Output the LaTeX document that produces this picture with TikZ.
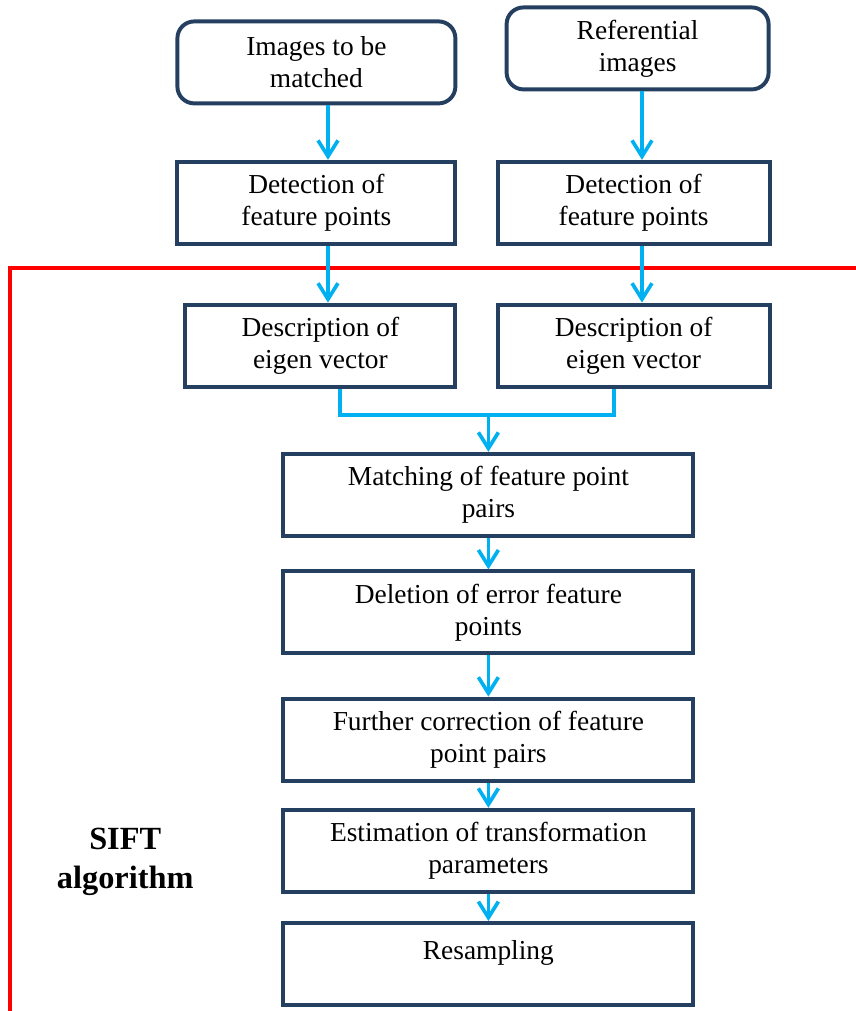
\documentclass[tikz,border=0pt]{standalone}
\usepackage{fontspec}
\setmainfont{Liberation Serif}
\usepackage{tikz}
\usetikzlibrary{arrows.meta, positioning, calc}
\definecolor{BoxNavy}{HTML}{243F60}
\definecolor{FlowCyan}{HTML}{00B0F0}
\definecolor{FrameRed}{HTML}{FF0000}
\tikzset{
    stepbox/.style={draw=BoxNavy, line width=2.8pt, fill=white, align=center,
                    minimum height=2.05cm, font=\fontsize{19.5}{22.7}\selectfont},
    startbox/.style={stepbox, rounded corners=12pt},
    flow/.style={draw=FlowCyan, line width=2.6pt,
                 -{Straight Barb[length=0.4cm,width=0.5cm]}},
    bus/.style={draw=FlowCyan, line width=2.6pt}
}

\begin{document}
\begin{tikzpicture}
    \useasboundingbox (0,0) rectangle (21.4,-25.275);

    % sources
    \node[startbox, minimum width=6.95cm] (img) at (7.91,-1.56) {Images to be\\matched};
    \node[startbox, minimum width=6.55cm] (ref) at (15.94,-1.21) {Referential\\images};

    % detection and description
    \node[stepbox, minimum width=6.95cm] (detL) at (7.91,-5.07) {Detection of\\feature points};
    \node[stepbox, minimum width=6.8cm]  (detR) at (15.84,-5.07) {Detection of\\feature points};
    \node[stepbox, minimum width=6.75cm] (desL) at (8.01,-8.64) {Description of\\eigen vector};
    \node[stepbox, minimum width=6.8cm]  (desR) at (15.84,-8.64) {Description of\\eigen vector};

    % main chain
    \node[stepbox, minimum width=10.25cm] (match) at (12.21,-12.37) {Matching of feature point\\pairs};
    \node[stepbox, minimum width=10.25cm] (del)   at (12.21,-15.31) {Deletion of error feature\\points};
    \node[stepbox, minimum width=10.25cm] (fur)   at (12.21,-18.49) {Further correction of feature\\point pairs};
    \node[stepbox, minimum width=10.25cm] (est)   at (12.21,-21.27) {Estimation of transformation\\parameters};
    \node[stepbox, minimum width=10.25cm, text depth=0.7cm] (res) at (12.21,-24.10) {Resampling};

    \node[align=center, font=\bfseries\fontsize{23}{27.6}\selectfont] (sift) at (3.13,-21.54) {SIFT\\algorithm};

    % columns of the arrows
    \coordinate (colL) at (8.2,0);
    \coordinate (colR) at (16.05,0);
    \coordinate (busL) at (8.5,0);
    \coordinate (busR) at (15.35,0);
    \coordinate (busY) at (0,-10.375);

    % SIFT frame
    \draw[FrameRed, line width=2.8pt] (21.4,-6.7) -- (0.25,-6.7) -- (0.25,-25.275);

    \draw[flow] (img.south -| colL) -- (detL.north -| colL);
    \draw[flow] (ref.south -| colR) -- (detR.north -| colR);
    \draw[flow] (detL.south -| colL) -- (desL.north -| colL);
    \draw[flow] (detR.south -| colR) -- (desR.north -| colR);

    \draw[bus] (desL.south -| busL) -- (busL |- busY) -- (busR |- busY) -- (desR.south -| busR);
    \draw[flow] (match.north |- busY) -- (match.north);

    \draw[flow] (match) -- (del);
    \draw[flow] (del) -- (fur);
    \draw[flow] (fur) -- (est);
    \draw[flow] (est) -- (res);
\end{tikzpicture}
\end{document}
